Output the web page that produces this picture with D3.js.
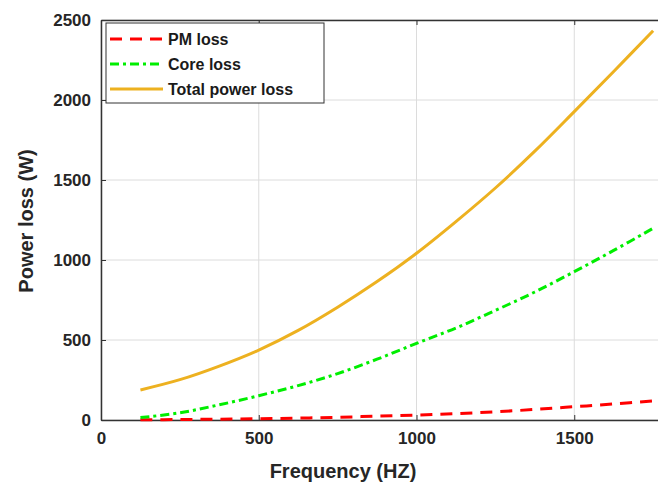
<!DOCTYPE html>
<html>
<head>
<meta charset="utf-8">
<script src="https://cdn.jsdelivr.net/npm/d3@7"></script>
<style>
  body { margin: 0; background: #fff; }
  svg { display: block; font-family: "Liberation Sans", Arial, sans-serif; font-weight: bold; }
</style>
</head>
<body>
<svg id="chart" width="658" height="488"></svg>
<script>
// frequency samples (Hz)
const freq = [125, 250, 375, 500, 625, 750, 875, 1000, 1125, 1250, 1375, 1500, 1625, 1750];
const pmLoss = [1, 3, 5, 8, 12, 17, 24, 31, 40, 51, 66, 83, 100, 119];
const coreLoss = [15, 45, 95, 152, 215, 290, 380, 479, 575, 685, 800, 927, 1060, 1198];
const totalLoss = [188, 252, 337, 437, 560, 705, 865, 1042, 1240, 1450, 1680, 1927, 2178, 2433];
const xTicks = [0, 500, 1000, 1500];
const yTicks = [0, 500, 1000, 1500, 2000, 2500];

const series = [
  { name: 'PM loss', values: pmLoss, color: '#ff0000', dash: '12,8' },
  { name: 'Core loss', values: coreLoss, color: '#00ee00', dash: '9,4,3,4' },
  { name: 'Total power loss', values: totalLoss, color: '#edb120', dash: null },
];

const margin = { left: 101, top: 20 };
const plotW = 631;   // axes box runs off the right edge of the picture
const plotH = 400;

const svg = d3.select('#chart');

const x = d3.scaleLinear().domain([0, 2000]).range([margin.left, margin.left + plotW]);
const y = d3.scaleLinear().domain([0, 2500]).range([margin.top + plotH, margin.top]);

// grid
const grid = svg.append('g').attr('stroke', '#dcdcdc').attr('stroke-width', 1);
grid.selectAll('.gx')
  .data(xTicks)
  .join('line')
  .attr('x1', (d) => x(d)).attr('x2', (d) => x(d))
  .attr('y1', y(0)).attr('y2', y(2500));
grid.selectAll('.gy')
  .data(yTicks)
  .join('line')
  .attr('x1', x(0)).attr('x2', x(2000))
  .attr('y1', (d) => y(d)).attr('y2', (d) => y(d));

// axes
const fmt = d3.format('d');
const xAxis = (g) =>
  g.attr('transform', `translate(0,${y(0)})`)
    .call(d3.axisBottom(x).tickValues(xTicks).tickFormat(fmt).tickSize(-5).tickPadding(12).tickSizeOuter(0))
    .call((g) => g.select('.domain').attr('stroke', '#333').attr('stroke-width', 1.5));
const xTop = (g) =>
  g.attr('transform', `translate(0,${y(2500)})`)
    .call(d3.axisTop(x).tickValues(xTicks).tickSize(-5).tickFormat('').tickSizeOuter(0))
    .call((g) => g.select('.domain').attr('stroke', '#333').attr('stroke-width', 1.5));
const yAxis = (g) =>
  g.attr('transform', `translate(${x(0)},0)`)
    .call(d3.axisLeft(y).tickValues(yTicks).tickFormat(fmt).tickSize(-5).tickPadding(10).tickSizeOuter(0))
    .call((g) => g.select('.domain').attr('stroke', '#333').attr('stroke-width', 1.5));

svg.append('g').call(xAxis);
svg.append('g').call(xTop);
svg.append('g').call(yAxis);

svg.selectAll('.tick text')
  .attr('fill', '#262626')
  .style('font-size', '17px')
  .style('font-weight', 'bold')
  .style('font-family', '"Liberation Sans", Arial, sans-serif');
svg.selectAll('.tick line').attr('stroke', '#333');

// lines
const line = d3.line()
  .x((d, i) => x(freq[i]))
  .y((d) => y(d))
  .curve(d3.curveCatmullRom);

svg.append('g')
  .selectAll('path')
  .data(series)
  .join('path')
  .attr('fill', 'none')
  .attr('stroke', (d) => d.color)
  .attr('stroke-width', 3)
  .attr('stroke-dasharray', (d) => d.dash)
  .attr('d', (d) => line(d.values));

// axis labels
svg.append('text')
  .attr('x', 343)
  .attr('y', 478)
  .attr('text-anchor', 'middle')
  .attr('fill', '#262626')
  .style('font-size', '20px')
  .text('Frequency (HZ)');

svg.append('text')
  .attr('transform', 'translate(33,221) rotate(-90)')
  .attr('text-anchor', 'middle')
  .attr('fill', '#262626')
  .style('font-size', '20px')
  .text('Power loss (W)');

// legend
const legend = svg.append('g');
legend.append('rect')
  .attr('x', 106).attr('y', 23)
  .attr('width', 218).attr('height', 80)
  .attr('fill', '#fff')
  .attr('stroke', '#333')
  .attr('stroke-width', 1);

const item = legend.selectAll('.item')
  .data(series)
  .join('g')
  .attr('transform', (d, i) => `translate(0,${39 + i * 25})`);
item.append('line')
  .attr('x1', 110).attr('x2', 163)
  .attr('stroke', (d) => d.color)
  .attr('stroke-width', 3)
  .attr('stroke-dasharray', (d) => d.dash);
item.append('text')
  .attr('x', 168)
  .attr('dy', '0.35em')
  .attr('fill', '#1a1a1a')
  .style('font-size', '16px')
  .text((d) => d.name);
</script>
</body>
</html>
